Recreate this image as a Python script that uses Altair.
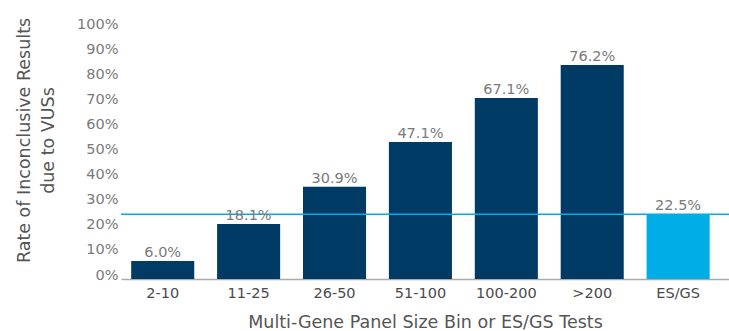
import altair as alt
import pandas as pd

categories = ["2-10", "11-25", "26-50", "51-100", "100-200", ">200", "ES/GS"]
bar_heights = [7.2, 21.9, 36.8, 54.6, 72.1, 85.3, 25.8]
bar_labels = ["6.0%", "18.1%", "30.9%", "47.1%", "67.1%", "76.2%", "22.5%"]
groups = ["panel", "panel", "panel", "panel", "panel", "panel", "esgs"]
tick_values = [0, 10, 20, 30, 40, 50, 60, 70, 80, 90, 100]
reference_value = 25.8

df = pd.DataFrame({"cat": categories, "val": bar_heights, "lab": bar_labels, "grp": groups})
ref = pd.DataFrame({"val": [reference_value]})

FONT = "DejaVu Sans"

x = alt.X("cat:N", sort=categories,
          scale=alt.Scale(paddingInner=0.266, paddingOuter=0.172, align=0.345),
          axis=alt.Axis(title="Multi-Gene Panel Size Bin or ES/GS Tests", labelAngle=0,
                        labelFontSize=14.5, labelColor="#4a4a4a", labelFont=FONT,
                        labelPadding=7, ticks=False, domainColor="#aaaaaa", domainWidth=1.5,
                        titleFontSize=17.5, titleColor="#555555", titleFont=FONT,
                        titleFontWeight="normal", titlePadding=14))
yaxis = alt.Axis(values=tick_values, labelExpr="datum.value + '%'",
                 labelBaseline="alphabetic", labelFontSize=14.5, labelColor="#7a7a7a",
                 labelFont=FONT, labelPadding=3, labelOverlap=False, ticks=False,
                 domain=False, grid=False,
                 title=["Rate of Inconclusive Results", "due to VUSs"],
                 titleFontSize=17.5, titleColor="#555555", titleFont=FONT,
                 titleFontWeight="normal", titleX=-88, titleY=112, titleLineHeight=24)
yscale = alt.Scale(domain=[0, 100], nice=False)

bars = alt.Chart(df).mark_bar().encode(
    x=x, y=alt.Y("val:Q", scale=yscale, axis=yaxis),
    color=alt.Color("grp:N", scale=alt.Scale(domain=["panel", "esgs"], range=["#003B65", "#00ADE6"]),
                    legend=None),
)

labels = alt.Chart(df).mark_text(baseline="alphabetic", dy=-4, fontSize=14.5, color="#7a7a7a",
                                 font=FONT).encode(
    x=alt.X("cat:N", sort=categories),
    y=alt.Y("val:Q", scale=yscale, axis=yaxis),
    text="lab:N")

rule = alt.Chart(ref).mark_rule(color="#00ADE6", strokeWidth=1.5).encode(
    y=alt.Y("val:Q", scale=yscale, axis=yaxis), x=alt.value(0), x2=alt.value(608))

chart = alt.layer(bars, rule, labels).properties(
    width=608, height=251, background="white",
    autosize=alt.AutoSizeParams(type="none"),
    padding={"left": 121, "top": 28, "right": 0, "bottom": 52},
).configure_view(stroke=None).configure_axis(labelOverlap=False)

chart.save("out.html", embed_options={"renderer": "svg", "actions": False})
